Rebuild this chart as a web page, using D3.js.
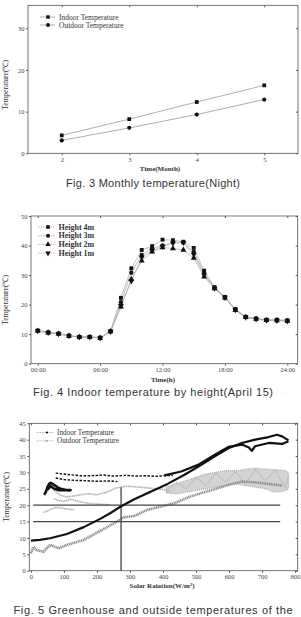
<!DOCTYPE html>
<html lang="en">
<head>
<meta charset="utf-8">
<title>Greenhouse temperatures</title>
<script src="https://cdn.jsdelivr.net/npm/d3@7"></script>
<style>
	body{margin:0;background:#fff;}
	svg{display:block;}
	.tick text{font-family:"Liberation Serif",serif;font-size:6.5px;fill:#444;}
	.tick line{stroke:#555;}
	.lab{font-family:"Liberation Serif",serif;fill:#333;}
	.cap{font-family:"Liberation Sans",sans-serif;font-size:11px;fill:#333;}
</style>
</head>
<body>
<script>
// Fig 3 - monthly night temperature
var months = [2, 3, 4, 5];
var indoorMonth = [4.3, 8.2, 12.3, 16.3];
var outdoorMonth = [3.1, 6.1, 9.3, 12.9];

// Fig 4 - indoor temperature by height, hourly
var hours = [0,1,2,3,4,5,6,7,8,9,10,11,12,13,14,15,16,17,18,19,20,21,22,23,24];
var h4m = [11.2,10.6,10.2,9.5,9.1,9.1,8.8,11.0,22.3,32.3,38.5,39.8,42.0,41.8,41.3,39.2,31.5,25.9,22.6,18.5,15.9,15.3,14.9,14.9,14.7];
var h3m = [11.2,10.6,10.2,9.5,9.1,9.1,8.8,11.0,20.8,30.8,36.8,39.0,40.0,41.2,41.0,37.8,30.8,25.7,22.4,18.3,15.8,15.2,14.8,14.7,14.5];
var h2m = [11.1,10.5,10.1,9.4,9.0,9.0,8.7,10.9,19.3,28.6,34.8,37.9,39.3,39.0,38.5,35.8,29.4,25.4,22.3,18.1,15.7,15.1,14.7,14.6,14.4];
var h1m = [11.1,10.5,10.1,9.4,9.0,9.0,8.7,10.9,19.6,28.0,36.0,38.3,39.7,40.8,41.0,37.0,30.0,25.5,22.4,18.2,15.7,15.1,14.7,14.6,14.4];
var hourTicks = [0, 6, 12, 18, 24];

// Fig 5 - temperature vs solar radiation  [W/m2, degC]
var indoorMain = [[0,9.2],[27,9.4],[58,9.9],[109,11.2],[160,13.3],[211,15.9],[241,17.6],[272,19.6],[313,21.8],[364,24.2],[414,26.5],[465,29.3],[516,32.3],[557,34.9],[598,37.4],[639,39.0],[679,40.0],[720,40.8],[745,41.5],[761,41.0],[780,39.8]];
var indoorBranch = [[404,29.1],[455,30.3],[506,32.3],[557,35.4],[598,37.8],[639,38.5],[660,37.6],[669,36.6],[679,38.0],[720,39.0],[761,38.7],[780,39.5]];
var indoorFlat = [[75,29.8],[90,29.6],[100,29.5],[120,29.3],[150,29.0],[180,29.0],[220,29.2],[250,28.9],[290,29.1],[320,28.9],[350,29.0],[380,28.8],[410,29.0],[430,29.1]];
var indoorFlat2 = [[75,28.3],[100,27.8],[130,27.6],[160,27.5],[200,27.3],[240,27.4],[262,27.2]];
var indoorCluster = [[40,23.2],[45,24.0],[50,25.5],[55,26.5],[60,26.8],[70,26.2],[80,25.5],[90,25.0],[100,24.8],[115,24.5],[120,24.6],[85,24.6],[70,25.0],[60,25.8],[50,24.8]];
var outdoorMain = [[0,5.3],[7,7.3],[17,6.3],[38,5.8],[58,7.9],[84,6.8],[109,7.9],[160,9.4],[211,12.2],[252,14.5],[282,16.3],[313,16.7],[353,18.6],[394,19.6],[435,20.6],[476,22.4],[516,23.7],[557,24.9],[598,26.2],[639,27.2],[679,27.0],[720,26.5],[761,26.0]];
var outdoorLow = [[38,17.8],[50,18.2],[60,18.8],[75,19.3],[90,19.2],[110,18.8],[130,18.6]];
var outdoorMid = [[70,22.0],[80,21.5],[100,21.2],[120,21.8],[150,21.0],[180,20.5],[210,20.3],[240,20.1]];
var outdoorHigh = [[70,24.5],[90,23.0],[110,22.5],[140,23.0],[170,23.5],[200,23.2],[230,24.0],[260,25.3],[290,25.8],[330,25.5],[360,25.2],[400,24.8],[420,24.2]];
var bandX = [410,440,470,500,530,560,590,620,650,680,710,740,770,780];
var bandTop = [25.5,26.5,27.5,28.5,29.5,30.0,30.5,30.5,31.0,31.2,31.0,30.8,30.5,30.0];
var bandBottom = [23.8,23.5,24.0,24.5,25.0,25.5,26.0,26.5,26.0,25.5,25.0,24.0,24.5,25.0];
var bandZig = [24.5,27.0,25.0,28.5,26.0,29.8,27.0,30.2,26.5,31.0,27.5,30.5,25.5,29.0];
var hLines = [20, 15];
var vLine = 273;

var svg = d3.select("body").append("svg")
	.attr("width", 301).attr("height", 617)
	.style("background", "#fff");

// frame with ticks on all four sides
function drawFrame(xScale, yScale, xTicks, yTicks, xFmt){
	var x0 = xScale.range()[0], x1 = xScale.range()[1];
	var y0 = yScale.range()[0], y1 = yScale.range()[1];
	var g = svg.append("g");
	g.append("g").attr("transform", "translate(0," + y0 + ")")
		.call(d3.axisBottom(xScale).tickValues(xTicks).tickSize(2).tickPadding(2).tickFormat(xFmt))
		.call(function(a){ a.select(".domain").remove(); });
	g.append("g").attr("transform", "translate(" + x0 + ",0)")
		.call(d3.axisLeft(yScale).tickValues(yTicks).tickSize(2).tickPadding(1.5))
		.call(function(a){ a.select(".domain").remove(); });
	g.append("g").attr("transform", "translate(0," + y1 + ")")
		.call(d3.axisTop(xScale).tickValues(xTicks).tickSize(-2).tickFormat(""))
		.call(function(a){ a.select(".domain").remove(); });
	g.append("g").attr("transform", "translate(" + x1 + ",0)")
		.call(d3.axisRight(yScale).tickValues(yTicks).tickSize(-2).tickFormat(""))
		.call(function(a){ a.select(".domain").remove(); });
	g.append("rect")
		.attr("x", x0).attr("y", y1)
		.attr("width", x1 - x0).attr("height", y0 - y1)
		.attr("fill", "none").attr("stroke", "#555").attr("stroke-width", 0.8);
}

function yTitle(x, y){
	svg.append("text").attr("class", "lab")
		.attr("transform", "translate(" + x + "," + y + ") rotate(-90)")
		.attr("text-anchor", "middle").style("font-size", "7.5px")
		.text("Temperature(\u2103)");
}
function xTitle(x, y, t){
	svg.append("text").attr("class", "lab")
		.attr("x", x).attr("y", y).attr("text-anchor", "middle")
		.style("font-size", "7px").style("font-weight", "bold")
		.text(t);
}
function caption(x, y, t, w){
	svg.append("text").attr("class", "cap")
		.attr("x", x).attr("y", y).attr("text-anchor", "middle")
		.attr("textLength", w).attr("lengthAdjust", "spacing")
		.text(t);
}

/******** FIG 3 ********/
var x1s = d3.scaleLinear().domain([1.5, 5.5]).range([28, 298]);
var y1s = d3.scaleLinear().domain([0, 35.5]).range([153.3, 5.3]);
drawFrame(x1s, y1s, months, [0, 10, 20, 30], d3.format("d"));

var line1 = d3.line().x(function(d, i){ return x1s(months[i]); }).y(function(d){ return y1s(d); });
[indoorMonth, outdoorMonth].forEach(function(s, k){
	svg.append("path").attr("d", line1(s))
		.attr("fill", "none").attr("stroke", "#999").attr("stroke-width", 0.8);
	svg.append("g").selectAll("path").data(s).enter().append("path")
		.attr("transform", function(d, i){ return "translate(" + x1s(months[i]) + "," + y1s(d) + ")"; })
		.attr("d", d3.symbol().type(k == 0 ? d3.symbolSquare : d3.symbolCircle).size(14))
		.attr("fill", "#111");
});
var leg1 = ["Indoor Temperature", "Outdoor Temperature"];
leg1.forEach(function(t, k){
	var yy = 17 + k * 8;
	svg.append("line").attr("x1", 40).attr("x2", 55).attr("y1", yy).attr("y2", yy)
		.attr("stroke", "#999").attr("stroke-width", 0.8);
	svg.append("path").attr("transform", "translate(48," + yy + ")")
		.attr("d", d3.symbol().type(k == 0 ? d3.symbolSquare : d3.symbolCircle).size(12))
		.attr("fill", "#111");
	svg.append("text").attr("class", "lab").attr("x", 59).attr("y", yy + 2.5)
		.style("font-size", "7.5px").text(t);
});
yTitle(8, 85);
xTitle(160, 171, "Time(Month)");
caption(153, 187, "Fig. 3  Monthly  temperature(Night)", 174);

/******** FIG 4 ********/
var x2s = d3.scaleLinear().domain([-0.65, 25]).range([31, 297.7]);
var y2s = d3.scaleLinear().domain([0, 50]).range([363.7, 216]);
drawFrame(x2s, y2s, hourTicks, [0, 10, 20, 30, 40, 50], function(d){ return (d < 10 ? "0" : "") + d + ":00"; });

var series2 = [
	{name: "Height 4m", v: h4m, sym: d3.symbolSquare},
	{name: "Height 3m", v: h3m, sym: d3.symbolCircle},
	{name: "Height 2m", v: h2m, sym: d3.symbolTriangle},
	{name: "Height 1m", v: h1m, sym: d3.symbolTriangle, flip: true}
];
var line2 = d3.line().x(function(d, i){ return x2s(hours[i]); }).y(function(d){ return y2s(d); });
series2.forEach(function(s){
	svg.append("path").attr("d", line2(s.v))
		.attr("fill", "none").attr("stroke", "#aaa").attr("stroke-width", 0.7);
});
series2.forEach(function(s){
	svg.append("g").selectAll("path").data(s.v).enter().append("path")
		.attr("transform", function(d, i){ return "translate(" + x2s(hours[i]) + "," + y2s(d) + ")" + (s.flip ? " rotate(180)" : ""); })
		.attr("d", d3.symbol().type(s.sym).size(15))
		.attr("fill", "#111");
});
series2.forEach(function(s, k){
	var yy = 227 + k * 8.7;
	svg.append("line").attr("x1", 38).attr("x2", 55).attr("y1", yy).attr("y2", yy)
		.attr("stroke", "#999").attr("stroke-width", 0.7).attr("stroke-dasharray", "1.5,1");
	svg.append("path").attr("transform", "translate(48," + yy + ")" + (s.flip ? " rotate(180)" : ""))
		.attr("d", d3.symbol().type(s.sym).size(13))
		.attr("fill", "#111");
	svg.append("text").attr("class", "lab").attr("x", 58.5).attr("y", yy + 2.7)
		.style("font-size", "8px").style("font-weight", "bold").text(s.name);
});
yTitle(8, 300);
xTitle(163, 382, "Time(h)");
caption(153, 396, "Fig. 4 Indoor temperature by height(April 15)", 240);

/******** FIG 5 ********/
var x3s = d3.scaleLinear().domain([-5, 808]).range([29.3, 297.7]);
var y3s = d3.scaleLinear().domain([0, 45]).range([570.7, 423.3]);
drawFrame(x3s, y3s, [0,100,200,300,400,500,600,700,800], [0,5,10,15,20,25,30,35,40,45], d3.format("d"));

var line3 = d3.line().x(function(d){ return x3s(d[0]); }).y(function(d){ return y3s(d[1]); }).curve(d3.curveLinear);

// outdoor noisy band
var band = d3.area()
	.x(function(d, i){ return x3s(bandX[i]); })
	.y0(function(d, i){ return y3s(bandBottom[i]); })
	.y1(function(d){ return y3s(d); })
	.curve(d3.curveMonotoneX);
svg.append("path").attr("d", band(bandTop))
	.attr("fill", "#d4d4d4").attr("stroke", "#b0b0b0").attr("stroke-width", 1.4)
	.attr("stroke-dasharray", "1,1");
svg.append("path")
	.attr("d", d3.line().x(function(d, i){ return x3s(bandX[i]); }).y(function(d){ return y3s(d); })(bandZig))
	.attr("fill", "none").attr("stroke", "#b8b8b8").attr("stroke-width", 1.6).attr("stroke-dasharray", "1,0.8");

[outdoorMain, outdoorLow, outdoorMid, outdoorHigh].forEach(function(s, k){
	svg.append("path").attr("d", line3(s))
		.attr("fill", "none").attr("stroke", k == 0 ? "#8a8a8a" : "#aaa")
		.attr("stroke-width", k == 0 ? 2.6 : 1.6).attr("stroke-dasharray", "1.2,0.6");
});

// reference lines
hLines.forEach(function(v){
	svg.append("line").attr("x1", x3s(7)).attr("x2", x3s(755))
		.attr("y1", y3s(v)).attr("y2", y3s(v))
		.attr("stroke", "#444").attr("stroke-width", 1.3);
});
svg.append("line").attr("x1", x3s(vLine)).attr("x2", x3s(vLine))
	.attr("y1", y3s(0)).attr("y2", y3s(25.5))
	.attr("stroke", "#444").attr("stroke-width", 1.3);

[indoorMain, indoorBranch, indoorCluster].forEach(function(s, k){
	svg.append("path").attr("d", line3(s))
		.attr("fill", "none").attr("stroke", "#111")
		.attr("stroke-width", k == 2 ? 2.6 : 2.2).attr("stroke-linejoin", "round");
});
[indoorFlat, indoorFlat2].forEach(function(s){
	svg.append("path").attr("d", line3(s))
		.attr("fill", "none").attr("stroke", "#111")
		.attr("stroke-width", 1.4).attr("stroke-dasharray", "2.5,1.5");
});

var leg3 = [{t: "Indoor Temperature", c: "#111"}, {t: "Outdoor Temperature", c: "#aaa"}];
leg3.forEach(function(s, k){
	var yy = 432.5 + k * 8.3;
	svg.append("line").attr("x1", 37).attr("x2", 54).attr("y1", yy).attr("y2", yy)
		.attr("stroke", "#999").attr("stroke-width", 0.7).attr("stroke-dasharray", "1.5,1");
	svg.append("circle").attr("cx", 47).attr("cy", yy).attr("r", 1.1).attr("fill", s.c);
	svg.append("text").attr("class", "lab").attr("x", 57).attr("y", yy + 2.5)
		.style("font-size", "7.2px").text(s.t);
});
yTitle(9, 497);
var xl = svg.append("text").attr("class", "lab")
	.attr("x", 162).attr("y", 588).attr("text-anchor", "middle")
	.style("font-size", "7px").style("font-weight", "bold");
xl.append("tspan").text("Solar Raiation(W/m");
xl.append("tspan").attr("dy", -2.5).style("font-size", "4.5px").text("2");
xl.append("tspan").attr("dy", 2.5).text(")");
caption(153, 614, "Fig. 5 Greenhouse and outside temperatures of the", 279);
</script>
</body>
</html>
